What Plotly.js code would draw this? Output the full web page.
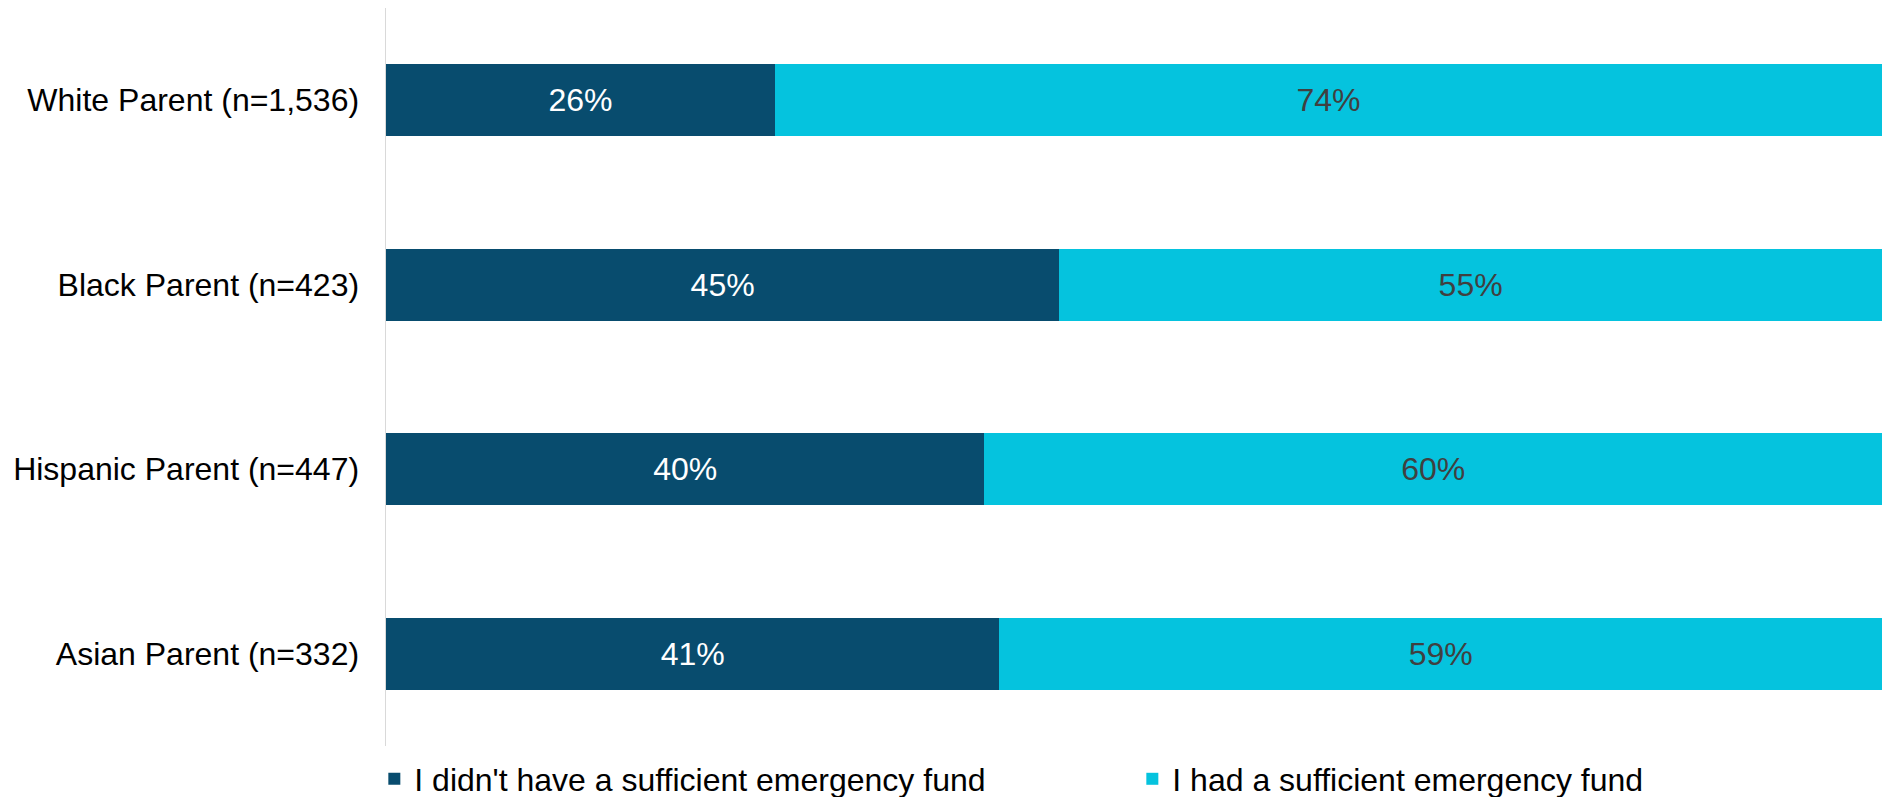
<!DOCTYPE html>
<html>
<head>
<meta charset="utf-8">
<script src="https://cdn.plot.ly/plotly-3.0.1.min.js"></script>
<style>html,body{margin:0;padding:0;background:#fff;}#chart{width:1882px;height:797px;}</style>
</head>
<body>
<div id="chart"></div>
<script>
var categories = ["White Parent (n=1,536)", "Black Parent (n=423)", "Hispanic Parent (n=447)", "Asian Parent (n=332)"];
var seriesNames = ["I didn't have a sufficient emergency fund", "I had a sufficient emergency fund"];
var noFund = [26, 45, 40, 41];
var hadFund = [74, 55, 60, 59];

var FONT = "Liberation Sans, Arial, sans-serif";

function pct(arr) { return arr.map(function (v) { return v + "%"; }); }

var traces = [
  {
    type: "bar", orientation: "h", name: seriesNames[0],
    y: categories, x: noFund, text: pct(noFund),
    textposition: "inside", insidetextanchor: "middle", constraintext: "none",
    textfont: {family: FONT, size: 32, color: "#ffffff"},
    marker: {color: "#084C6E", line: {width: 0}},
    width: 0.39, hoverinfo: "skip"
  },
  {
    type: "bar", orientation: "h", name: seriesNames[1],
    y: categories, x: hadFund, text: pct(hadFund),
    textposition: "inside", insidetextanchor: "middle", constraintext: "none",
    textfont: {family: FONT, size: 32, color: "#404040"},
    marker: {color: "#05C3DE", line: {width: 0}},
    width: 0.39, hoverinfo: "skip"
  }
];

var layout = {
  width: 1882, height: 797,
  margin: {l: 386, r: 0, t: 8, b: 51, pad: 0, autoexpand: false},
  paper_bgcolor: "#ffffff", plot_bgcolor: "#ffffff",
  barmode: "stack",
  font: {family: FONT, size: 32, color: "#000000"},
  xaxis: {range: [0, 100], showgrid: false, zeroline: false, showticklabels: false, showline: false, fixedrange: true},
  yaxis: {
    type: "category", categoryorder: "array", categoryarray: categories,
    autorange: "reversed", showgrid: false, zeroline: false,
    showline: true, linecolor: "#D9D9D9", linewidth: 1.5,
    ticks: "", ticklabelstandoff: 19,
    tickfont: {family: FONT, size: 32, color: "#000000"}, fixedrange: true
  },
  showlegend: true,
  legend: {
    orientation: "h",
    x: -0.0078, xanchor: "left", y: -0.0447, yanchor: "middle",
    entrywidth: 713, entrywidthmode: "pixels", traceorder: "normal",
    font: {family: FONT, size: 32, color: "#000000"}, bgcolor: "rgba(0,0,0,0)"
  }
};

Plotly.newPlot("chart", traces, layout, {displayModeBar: false, staticPlot: true});
</script>
</body>
</html>
